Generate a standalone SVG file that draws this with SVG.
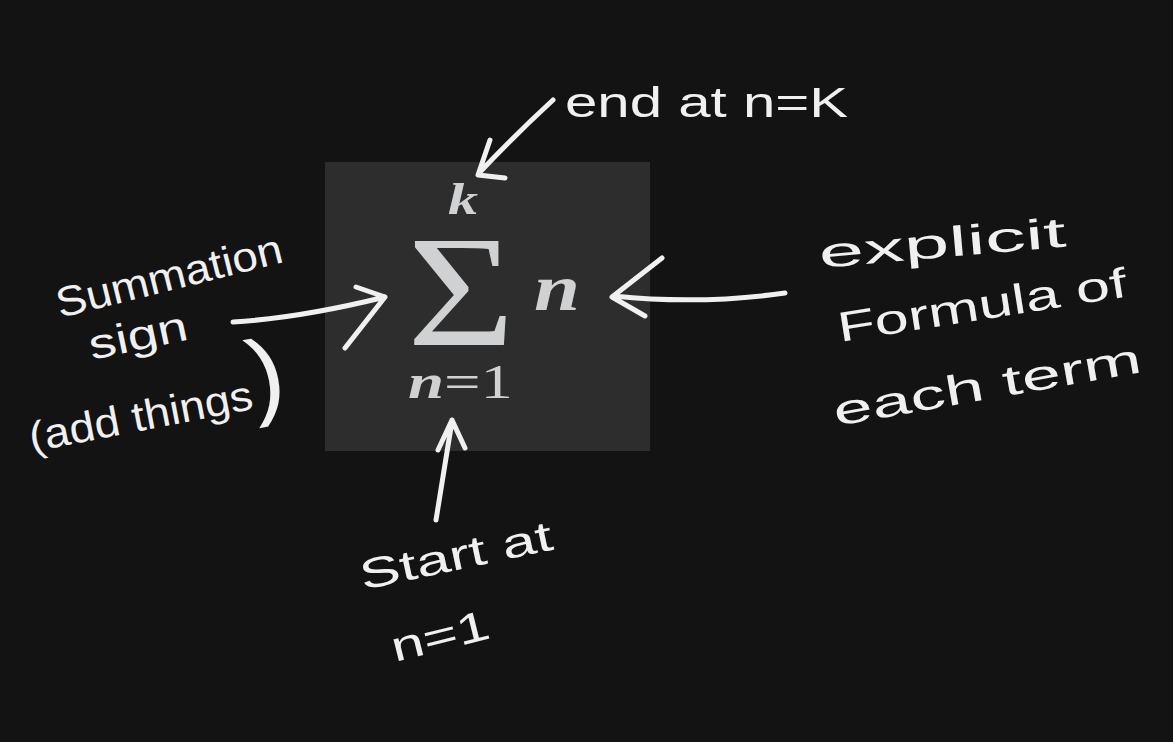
<svg xmlns="http://www.w3.org/2000/svg" width="1173" height="742" viewBox="0 0 1173 742">
<style>
.hw{font-family:"Liberation Sans","DejaVu Sans",sans-serif;fill:#f0f0f0;font-size:42px}
.math{font-family:"Liberation Serif","DejaVu Serif",serif;fill:#d0d1d3}
.ln{fill:none;stroke:#f0f0f0;stroke-width:5;stroke-linecap:round;stroke-linejoin:round}
</style>
<rect width="1173" height="742" fill="#131313"/>
<g id="formula">
<rect x="325" y="162" width="325" height="289" fill="#2d2d2d"/>
<text class="math" x="448" y="214" font-size="44" font-style="italic" font-weight="bold" textLength="30" lengthAdjust="spacingAndGlyphs">k</text>
<text class="math" x="407" y="345" font-size="158" textLength="108" lengthAdjust="spacingAndGlyphs">Σ</text>
<text class="math" x="534" y="310" font-size="66" font-style="italic" font-weight="bold" textLength="46" lengthAdjust="spacingAndGlyphs">n</text>
<text class="math" x="408" y="398" font-size="48" textLength="105" lengthAdjust="spacingAndGlyphs"><tspan font-style="italic" font-weight="bold">n</tspan>=1</text>
</g>
<g id="label-end">
<text class="hw" x="565" y="117" textLength="283" lengthAdjust="spacingAndGlyphs">end at n=K</text>
</g>
<g id="label-sum">
<text class="hw" transform="translate(60,318) rotate(-14)" textLength="232" lengthAdjust="spacingAndGlyphs">Summation</text>
<text class="hw" transform="translate(92,360) rotate(-12)" textLength="100" lengthAdjust="spacingAndGlyphs">sign</text>
<text class="hw" transform="translate(32,452) rotate(-11)" textLength="262" lengthAdjust="spacingAndGlyphs">(add things<tspan font-size="96">)</tspan></text>
</g>
<g id="label-formula">
<text class="hw" transform="translate(820,268) rotate(-5)" font-size="46" textLength="248" lengthAdjust="spacingAndGlyphs">explicit</text>
<text class="hw" transform="translate(840,342) rotate(-9)" font-size="46" textLength="292" lengthAdjust="spacingAndGlyphs">Formula of</text>
<text class="hw" transform="translate(836,426) rotate(-10)" font-size="48" textLength="312" lengthAdjust="spacingAndGlyphs">each term</text>
</g>
<g id="label-start">
<text class="hw" transform="translate(363,590) rotate(-12)" font-size="44" textLength="196" lengthAdjust="spacingAndGlyphs">Start at</text>
<text class="hw" transform="translate(395,662) rotate(-14)" font-size="46" textLength="100" lengthAdjust="spacingAndGlyphs">n=1</text>
</g>
<g id="connectors">
<path class="ln" d="M553,100 Q515,135 480,172 M478,175 L490,140 M478,175 L505,178"/>
<path class="ln" d="M233,322 Q300,318 385,297 M385,297 L345,348 M385,297 L356,287"/>
<path class="ln" d="M785,293 Q700,305 614,296 M612,297 L662,258 M612,297 L645,316"/>
<path class="ln" d="M436,520 Q444,470 452,421 M452,420 L438,450 M452,420 L465,448"/>
</g>
</svg>
